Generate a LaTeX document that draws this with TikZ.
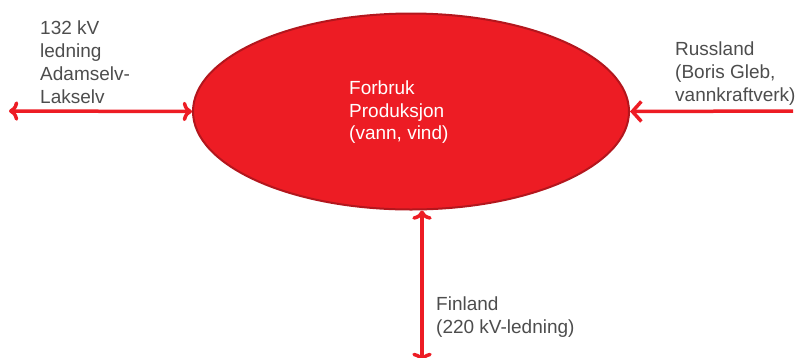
\documentclass[tikz,border=0pt]{standalone}
\usepackage{fontspec}
\setmainfont{Liberation Sans}
\usetikzlibrary{arrows.meta, shapes.geometric}
\definecolor{netred}{HTML}{ED1C24}
\definecolor{netdark}{HTML}{B3161D}
\definecolor{labelgrey}{HTML}{4D4D4D}
\tikzset{
  link/.style={netred, line width=3.5pt, arrows={-Straight Barb[length=9pt,width=20pt,line width=3.5pt]}},
  txt/.style={anchor=north west, inner sep=0pt, align=left, text=labelgrey, font=\fontsize{19}{23}\selectfont},
}

\begin{document}
\begin{tikzpicture}[x=1pt, y=-1pt]
  \useasboundingbox (0,0) rectangle (797,357);
  \node[ellipse, draw=netdark, line width=2pt, fill=netred, minimum width=436pt, minimum height=196pt, inner sep=0pt] (grid) at (411,111.5) {};
  \node[txt, text=white, font=\fontsize{19}{22.5}\selectfont] (load) at (349,81) {Forbruk\\Produksjon\\(vann, vind)};
  % connections
  \coordinate (west) at (9,111);
  \coordinate (east) at (793,111);
  \coordinate (south) at (422,362);
  \draw[link, <->] (west) -- (grid.west);
  \draw[link] (east) -- (grid.east);
  \draw[link, <->] (south) -- (grid.south -| south);
  % labels
  \node[txt] (adamselv) at (40,21) {132 kV\\ledning\\Adamselv-\\Lakselv};
  \node[txt] (russland) at (675,42) {Russland\\(Boris Gleb,\\vannkraftverk)};
  \node[txt] (finland) at (436,297) {Finland\\(220 kV-ledning)};
\end{tikzpicture}
\end{document}
